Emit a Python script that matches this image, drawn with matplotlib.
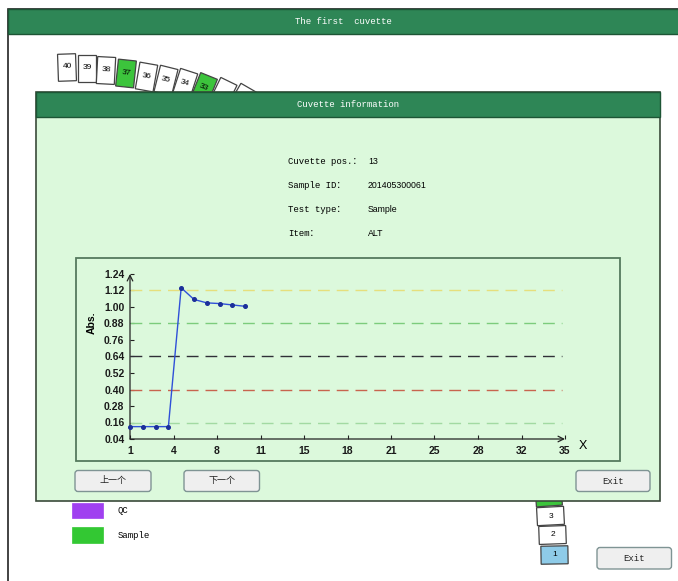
import matplotlib
matplotlib.use('Agg')
import matplotlib.pyplot as plt
import numpy as np
from matplotlib.patches import Rectangle, FancyBboxPatch

W, H = 678, 581

# absorbance readings of cuvette 13
points = [1, 2, 3, 4, 5, 6, 7, 8, 9, 10]
absorbance = [0.13, 0.13, 0.13, 0.13, 1.14, 1.055, 1.03, 1.025, 1.015, 1.005]

y_ticks = [0.04, 0.16, 0.28, 0.40, 0.52, 0.64, 0.76, 0.88, 1.00, 1.12, 1.24]
x_tick_labels = ['1', '4', '8', '11', '15', '18', '21', '25', '28', '32', '35']

limit_levels = [1.12, 0.88, 0.64, 0.40, 0.16]
limit_colors = ['#e6df7c', '#7ccc7c', '#303038', '#c8644e', '#a2daa2']

info_labels = ['Cuvette pos.：', 'Sample ID：', 'Test type：', 'Item：']
info_values = ['13', '201405300061', 'Sample', 'ALT']

top_cuvettes = ['40', '39', '38', '37', '36', '35', '34', '33', '', '']
top_green = ['37', '33']
legend_names = ['QC', 'Sample']
legend_colors = ['#a040f0', '#33c833']

MONO = ['Liberation Mono', 'Noto Sans CJK SC']
CJK = ['Noto Sans CJK SC', 'DejaVu Sans']
HEAD = '#2e8656'
BODY = '#dcf9dc'

fig = plt.figure(figsize=(W / 100, H / 100), dpi=100)
bg = fig.add_axes([0, 0, 1, 1])
bg.set_xlim(0, W)
bg.set_ylim(H, 0)
bg.axis('off')


def box(x0, y0, x1, y1, fc, ec, lw=1.0, z=1, angle=0):
    r = Rectangle((x0, y0), x1 - x0, y1 - y0, fc=fc, ec=ec, lw=lw, zorder=z,
                  angle=angle, rotation_point='center')
    bg.add_patch(r)


def button(x0, y0, x1, y1, label, family):
    b = FancyBboxPatch((x0, y0), x1 - x0, y1 - y0, boxstyle='round,pad=0,rounding_size=3',
                       fc='#efefef', ec='#7f9494', lw=1.0, zorder=6)
    bg.add_patch(b)
    bg.text((x0 + x1) / 2, (y0 + y1) / 2, label, ha='center', va='center',
            fontsize=6.5, family=family, color='#222222', zorder=7)


# outer window
box(8, 9, W + 5, H + 5, 'white', '#222222', lw=1.2, z=0)
box(8, 9, W + 5, 34, HEAD, '#1d5535', lw=1, z=1)
bg.text(343, 21.5, 'The first  cuvette', ha='center', va='center', color='white',
        fontsize=6.5, family=MONO, zorder=2)

# cuvette chain at the top (partly behind the dialog)
cx = [67, 87, 106, 126, 146.5, 166, 185, 204, 223, 242]
cy = [67.5, 68.5, 70.5, 73.5, 77, 80.5, 84, 88.5, 93.5, 99.5]
ang = [-2, 0, 3, 6, 10, 14, 18, 22, 26, 30]
for i, lab in enumerate(top_cuvettes):
    fc = '#3cc43c' if lab in top_green else 'white'
    box(cx[i] - 9, cy[i] - 13.5, cx[i] + 9, cy[i] + 13.5, fc, '#444444', lw=0.9, z=2, angle=ang[i])
    bg.text(cx[i], cy[i] - 1, lab, ha='center', va='center', fontsize=6,
            family='Liberation Sans', rotation=-ang[i], zorder=3)

# cuvettes at the lower right
box(536, 494, 562, 506, '#3cc43c', '#444444', lw=0.9, z=2, angle=-4)
for lab, x0, y0, fc, a in [('3', 537, 507, 'white', -3), ('2', 539, 526, 'white', -2),
                           ('1', 541, 546, '#8ecbe8', -1)]:
    box(x0, y0, x0 + 27, y0 + 18, fc, '#444444', lw=0.9, z=2, angle=a)
    bg.text(x0 + 13.5, y0 + 9, lab, ha='center', va='center', fontsize=6,
            family='Liberation Sans', zorder=3)

# legend under the dialog
for i, (name, col) in enumerate(zip(legend_names, legend_colors)):
    y0 = 502.5 + i * 24.5
    box(72, y0, 103, y0 + 15.5, col, col, lw=0.5, z=2)
    bg.text(118, y0 + 8, name, ha='left', va='center', fontsize=6.5, family=MONO, zorder=3)

button(597, 547.5, 671.5, 569, 'Exit', MONO)

# dialog
box(36, 92, 660, 501, BODY, '#3a4a3a', lw=1.2, z=4)
box(36, 92, 660, 117, HEAD, '#1d5535', lw=1, z=4)
bg.text(348, 104.5, 'Cuvette information', ha='center', va='center', color='white',
        fontsize=6.5, family=MONO, zorder=5)

for i, (lab, val) in enumerate(zip(info_labels, info_values)):
    y = 161 + i * 24
    bg.text(288, y, lab, ha='left', va='center', fontsize=6.5, family=MONO, zorder=5)
    bg.text(368, y, val, ha='left', va='center', fontsize=6.3, family='Liberation Sans', zorder=5)

# chart frame
box(76, 258, 620, 461, BODY, '#557a5e', lw=1.3, z=5)

button(75, 470.5, 151, 491.5, '上一个', CJK)
button(184, 470.5, 259.5, 491.5, '下一个', CJK)
button(576, 470.5, 650, 491.5, 'Exit', MONO)

bg.text(92, 323, 'Abs.', rotation=90, ha='center', va='center', fontsize=7.5,
        fontweight='bold', family='Liberation Sans', zorder=6)
bg.text(583, 446, 'X', ha='center', va='center', fontsize=9, family='Liberation Sans', zorder=6)

# absorbance chart
ax = fig.add_axes([130 / W, (H - 439) / H, (565 - 130) / W, (439 - 274) / H])
ax.set_zorder(2)
ax.patch.set_alpha(0)
ax.set_xlim(1, 35)
ax.set_ylim(0.04, 1.24)
for s in ax.spines.values():
    s.set_visible(False)

ax.annotate('', xy=(35, 0.04), xytext=(1, 0.04), annotation_clip=False,
            arrowprops=dict(arrowstyle='->', lw=0.9, color='#222222', shrinkA=0, shrinkB=0))
ax.annotate('', xy=(1, 1.24), xytext=(1, 0.04), annotation_clip=False,
            arrowprops=dict(arrowstyle='->', lw=0.9, color='#222222', shrinkA=0, shrinkB=0))

for lvl, col in zip(limit_levels, limit_colors):
    ax.hlines(lvl, 1, 34.8, colors=col, lw=1.0, linestyles=(0, (8.5, 5)))

ax.plot(points, absorbance, color='#2f50d8', lw=1.0, marker='o', ms=2.6,
        mfc='#1c2f9a', mec='#1c2f9a', clip_on=False, zorder=4)

ax.set_yticks(y_ticks)
ax.set_yticklabels([f'{v:.2f}' for v in y_ticks])
ax.set_xticks(np.linspace(1, 35, 11))
ax.set_xticklabels(x_tick_labels)
ax.tick_params(direction='in', length=3, width=0.8, color='#222222', pad=4,
               labelsize=7.5, labelcolor='#1a1a1a')
ax.tick_params(axis='x', pad=5)
for t in ax.get_xticklabels() + ax.get_yticklabels():
    t.set_fontweight('bold')
    t.set_family('Liberation Sans')

fig.savefig('out.png', dpi=100)
